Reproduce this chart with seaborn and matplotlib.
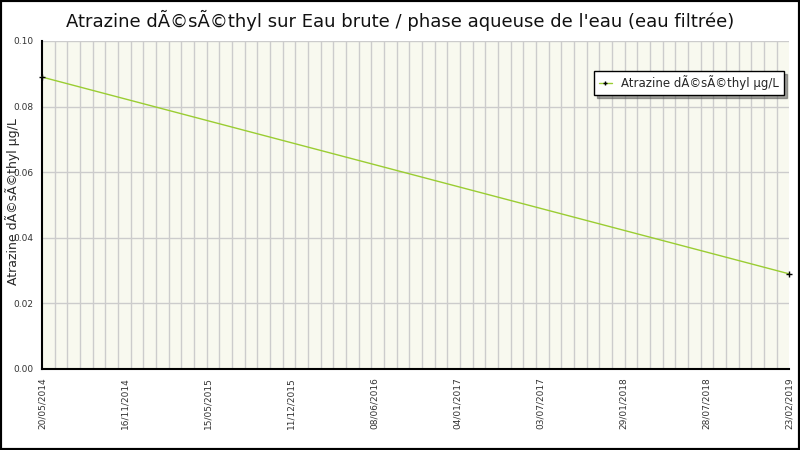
import numpy as np
import pandas as pd
import matplotlib
matplotlib.use('Agg')
import matplotlib.pyplot as plt
import matplotlib.dates as mdates
from matplotlib.patches import Rectangle
from matplotlib.ticker import FixedLocator, FixedFormatter, MultipleLocator
import seaborn as sns

# data
dates = ['2014-05-20', '2019-02-23']
values = [0.089, 0.029]
tick_labels = ['20/05/2014', '16/11/2014', '15/05/2015', '11/12/2015', '08/06/2016',
               '04/01/2017', '03/07/2017', '29/01/2018', '28/07/2018', '23/02/2019']
series_name = 'Atrazine dÃ©sÃ©thyl µg/L'
title = "Atrazine dÃ©sÃ©thyl sur Eau brute / phase aqueuse de l'eau (eau filtrée)"

sns.set_style('white')
plt.rcParams['font.family'] = ['DejaVu Sans']

df = pd.DataFrame({'date': pd.to_datetime(dates), 'value': values})

fig = plt.figure(figsize=(8, 4.5), dpi=100)
ax = fig.add_axes([0.0525, 0.18, 0.934, 0.729])
ax.set_facecolor('#f8f9ef')

sns.lineplot(data=df, x='date', y='value', ax=ax, color='#9acd32', lw=1,
             marker='+', markersize=5, markeredgecolor='black', markeredgewidth=1,
             label=series_name, zorder=3, clip_on=False)

x0 = mdates.date2num(df['date'].iloc[0])
x1 = mdates.date2num(df['date'].iloc[-1])
ax.set_xlim(x0, x1)
ax.set_ylim(0, 0.1)

ax.xaxis.set_major_locator(FixedLocator(np.linspace(x0, x1, len(tick_labels))))
ax.xaxis.set_major_formatter(FixedFormatter(tick_labels))
ax.xaxis.set_minor_locator(FixedLocator(np.linspace(x0, x1, 60)))
ax.yaxis.set_major_locator(MultipleLocator(0.02))
ax.yaxis.set_minor_locator(MultipleLocator(0.005))
ax.yaxis.set_major_formatter(matplotlib.ticker.FormatStrFormatter('%.2f'))

ax.grid(False)
ax.grid(which='minor', axis='x', color='#cccccc', lw=1)
ax.grid(which='major', axis='y', color='#cccccc', lw=1)
ax.set_axisbelow(True)

ax.tick_params(axis='x', which='major', length=0, pad=6, labelsize=6.5,
               labelcolor='#333333', rotation=90)
ax.tick_params(axis='x', which='minor', direction='in', length=5, width=1, color='black')
ax.tick_params(axis='y', which='major', direction='in', length=4, width=1,
               color='black', labelsize=6.5, labelcolor='#333333', pad=6)
ax.tick_params(axis='y', which='minor', direction='in', length=3, width=1, color='black')

for s in ['top', 'right']:
    ax.spines[s].set_visible(False)
for s in ['left', 'bottom']:
    ax.spines[s].set_color('black')
    ax.spines[s].set_linewidth(1.5)

ax.set_xlabel('')
ax.set_ylabel(series_name, fontsize=9)
ax.yaxis.set_label_coords(-0.029, 0.51)

leg = ax.legend(loc='upper right', bbox_to_anchor=(0.993, 0.909), borderaxespad=0,
                fontsize=8.5, frameon=True, fancybox=False, shadow=True,
                handlelength=1.1, markerscale=0.7)
leg.get_frame().set_edgecolor('black')
leg.get_frame().set_linewidth(1)

fig.suptitle(title, fontsize=13, y=0.978, color='#111111')
fig.patches.append(Rectangle((0, 0), 1, 1, transform=fig.transFigure, fill=False,
                             edgecolor='black', lw=3))

fig.savefig('out.png', dpi=100)
